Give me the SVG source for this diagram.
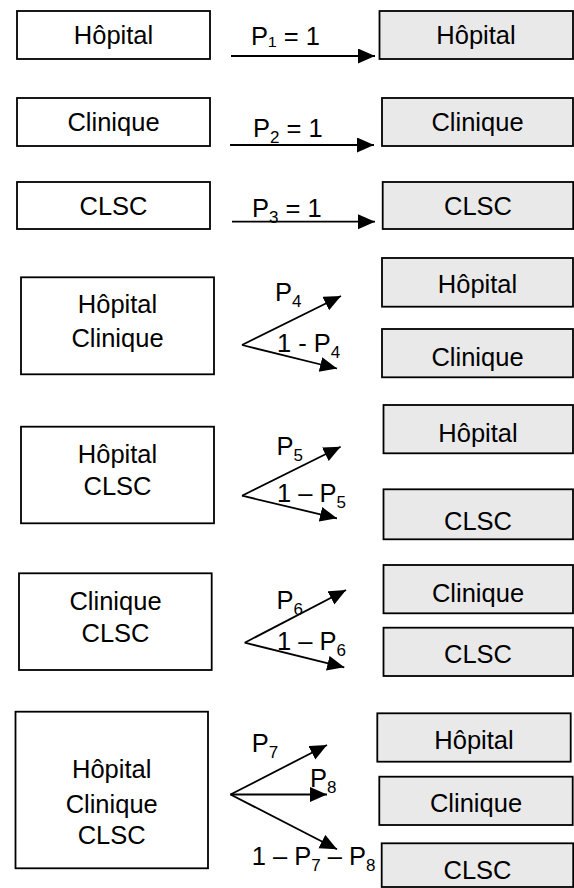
<svg xmlns="http://www.w3.org/2000/svg" width="574" height="888" viewBox="0 0 574 888">
<style>
.src{fill:#fff;stroke:#000;stroke-width:1.8}
.dst{fill:#e9e9e9;stroke:#000;stroke-width:1.8}
text{font-family:"Liberation Sans",Arial,sans-serif;font-size:25.5px;fill:#000}
.c{text-anchor:middle}
.sub{font-size:17px}
.con path{fill:none;stroke:#000;stroke-width:1.8;marker-end:url(#ah)}
</style>
<defs>
<marker id="ah" markerUnits="userSpaceOnUse" markerWidth="18" markerHeight="16" refX="17" refY="7.5" orient="auto" viewBox="0 0 18 16">
<path d="M0,0 L17,7.5 L0,15 z" fill="#000"/>
</marker>
</defs>
<rect width="574" height="888" fill="#fff"/>

<g id="row1-src"><rect class="src" x="17" y="11" width="193" height="48"/><text class="c" x="113.5" y="44">Hôpital</text></g>
<g id="row1-dst"><rect class="dst" x="379.5" y="11" width="193.5" height="48"/><text class="c" x="476" y="44">Hôpital</text></g>
<g id="row2-src"><rect class="src" x="17" y="98" width="193" height="48"/><text class="c" x="113.5" y="131">Clinique</text></g>
<g id="row2-dst"><rect class="dst" x="382" y="98" width="191" height="48"/><text class="c" x="477.5" y="131">Clinique</text></g>
<g id="row3-src"><rect class="src" x="17" y="182" width="193" height="47"/><text class="c" x="113.5" y="215">CLSC</text></g>
<g id="row3-dst"><rect class="dst" x="382.7" y="182" width="190.5" height="47"/><text class="c" x="478" y="215">CLSC</text></g>

<g id="row4-src"><rect class="src" x="21" y="277.3" width="193" height="97"/><text class="c" x="117.5" y="313.3">Hôpital</text><text class="c" x="117.5" y="347.3">Clinique</text></g>
<g id="row4-dst1"><rect class="dst" x="382" y="258" width="191" height="48.7"/><text class="c" x="477.5" y="293.3">Hôpital</text></g>
<g id="row4-dst2"><rect class="dst" x="382" y="329" width="191" height="48.3"/><text class="c" x="477.5" y="366">Clinique</text></g>

<g id="row5-src"><rect class="src" x="21" y="426.7" width="193" height="96.6"/><text class="c" x="117.5" y="463.3">Hôpital</text><text class="c" x="117.5" y="495">CLSC</text></g>
<g id="row5-dst1"><rect class="dst" x="383.5" y="405" width="189.5" height="48.3"/><text class="c" x="478" y="441.7">Hôpital</text></g>
<g id="row5-dst2"><rect class="dst" x="383.5" y="489.3" width="189.5" height="50"/><text class="c" x="478" y="530">CLSC</text></g>

<g id="row6-src"><rect class="src" x="19" y="573.3" width="192.7" height="96.7"/><text class="c" x="115.5" y="610">Clinique</text><text class="c" x="115.5" y="641.7">CLSC</text></g>
<g id="row6-dst1"><rect class="dst" x="383.5" y="565" width="189.5" height="48.3"/><text class="c" x="478" y="601.7">Clinique</text></g>
<g id="row6-dst2"><rect class="dst" x="383.5" y="627.7" width="189.5" height="48.3"/><text class="c" x="478" y="663.3">CLSC</text></g>

<g id="row7-src"><rect class="src" x="15.5" y="711.7" width="192.5" height="156.6"/><text class="c" x="111.7" y="778.3">Hôpital</text><text class="c" x="111.7" y="813.3">Clinique</text><text class="c" x="111.7" y="844">CLSC</text></g>
<g id="row7-dst1"><rect class="dst" x="377.3" y="713.3" width="193.4" height="48.4"/><text class="c" x="474" y="749.3">Hôpital</text></g>
<g id="row7-dst2"><rect class="dst" x="379.3" y="776.7" width="193.4" height="48.3"/><text class="c" x="476" y="811.7">Clinique</text></g>
<g id="row7-dst3"><rect class="dst" x="381.7" y="843.3" width="191.5" height="43.7"/><text class="c" x="477.5" y="879">CLSC</text></g>

<g id="connectors" class="con">
<path d="M231,56 H375"/>
<path d="M230,145 H374"/>
<path d="M232,221.7 H375"/>
<path d="M242,345 L341,296"/>
<path d="M242,345 L337,368.5"/>
<path d="M242,495.7 L340.6,446.7"/>
<path d="M242,495.7 L337,518.3"/>
<path d="M244.7,642.7 L346,590"/>
<path d="M244.7,642.7 L344.3,667.3"/>
<path d="M230.5,794.5 L327,745"/>
<path d="M230.5,794.5 L327,794.5"/>
<path d="M230.5,794.5 L337,849.3"/>
</g>

<g id="labels">
<text x="251" y="45">P₁ = 1</text>
<text x="253" y="137">P<tspan class="sub" dy="6">2</tspan><tspan dy="-6"> = 1</tspan></text>
<text x="252" y="217">P<tspan class="sub" dy="6">3</tspan><tspan dy="-6"> = 1</tspan></text>
<text x="275" y="301">P<tspan class="sub" dy="6">4</tspan></text>
<text x="277" y="351.7">1 - P<tspan class="sub" dy="6">4</tspan></text>
<text x="276.6" y="455">P<tspan class="sub" dy="6">5</tspan></text>
<text x="277" y="501.7">1 – P<tspan class="sub" dy="6">5</tspan></text>
<text x="276.6" y="609.3">P<tspan class="sub" dy="6">6</tspan></text>
<text x="277" y="650">1 – P<tspan class="sub" dy="6">6</tspan></text>
<text x="251.7" y="751.7">P<tspan class="sub" dy="6">7</tspan></text>
<text x="310" y="786.7">P<tspan class="sub" dy="6">8</tspan></text>
<text x="251.7" y="865">1 – P<tspan class="sub" dy="6">7</tspan><tspan dy="-6"> – P</tspan><tspan class="sub" dy="6">8</tspan></text>
</g>
</svg>
